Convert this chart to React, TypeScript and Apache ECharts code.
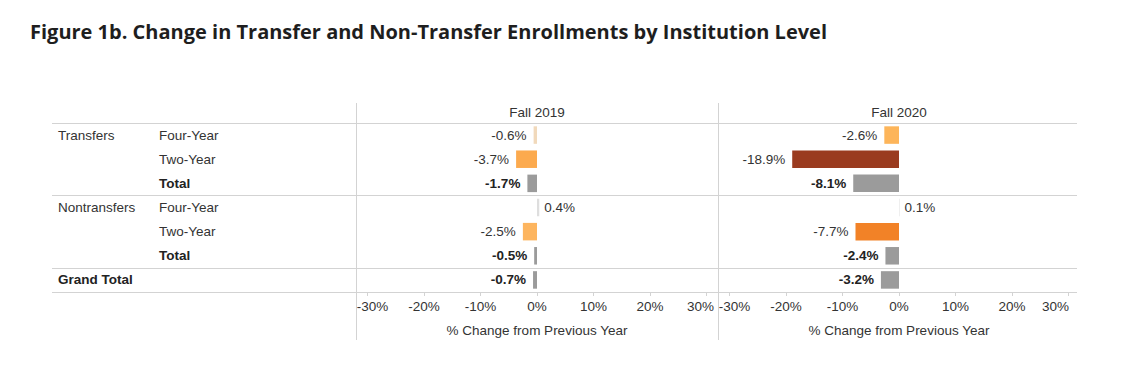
import React, { useEffect, useRef } from "react";
import * as echarts from "echarts";

// ---- data ----
const groups = ["Transfers", "Transfers", "Transfers", "Nontransfers", "Nontransfers", "Nontransfers", "Grand Total"];
const levels = ["Four-Year", "Two-Year", "Total", "Four-Year", "Two-Year", "Total", ""];
const fall2019 = [-0.6, -3.7, -1.7, 0.4, -2.5, -0.5, -0.7];
const fall2020 = [-2.6, -18.9, -8.1, 0.1, -7.7, -2.4, -3.2];
const panels = ["Fall 2019", "Fall 2020"];
const axisMin = -30;
const axisMax = 30;
const axisStep = 10;
const axisTitle = "% Change from Previous Year";
const titleText = "Figure 1b. Change in Transfer and Non-Transfer Enrollments by Institution Level";

// ---- styles ----
const colors2019 = ["#f1d9bb", "#fcaa4e", "#9b9b9b", "#dedede", "#fdb55f", "#9b9b9b", "#9b9b9b"];
const colors2020 = ["#fdb55a", "#9a3b1f", "#9b9b9b", "#e2e2e2", "#f28227", "#9b9b9b", "#9b9b9b"];
const FONT = "Arial, 'Liberation Sans', sans-serif";
const FS = 13.5;
const LINE = "#d3d3d3";

const keys = groups.map((g, i) => g + "|" + levels[i] + "|" + i);
const isBold = (i: number) => levels[i] === "Total" || groups[i] === "Grand Total";
const boundaries: number[] = [0];
groups.forEach((g, i) => {
  if (i > 0 && g !== groups[i - 1]) boundaries.push(i);
});
boundaries.push(groups.length);

const rich = {
  n: { fontFamily: FONT, fontSize: FS, color: "#333" },
  b: { fontFamily: FONT, fontSize: FS, color: "#222", fontWeight: "bold" },
};

function tickAxis(gridIndex: number, maxPad: number) {
  return {
    gridIndex,
    type: "value",
    min: axisMin,
    max: axisMax,
    interval: axisStep,
    position: "bottom",
    splitLine: { show: false },
    axisLine: { show: true, lineStyle: { color: LINE } },
    axisTick: { show: true, length: 4, lineStyle: { color: LINE } },
    axisLabel: {
      showMinLabel: true,
      showMaxLabel: true,
      margin: 7,
      formatter: (v: number) => {
        const t = v + "%";
        if (v === axisMin) return "{mn|" + t + "}";
        if (v === axisMax) return "{mx|" + t + "}";
        return "{t|" + t + "}";
      },
      rich: {
        t: { fontFamily: FONT, fontSize: FS, color: "#333" },
        mn: { fontFamily: FONT, fontSize: FS, color: "#333", padding: [0, 0, 0, 10] },
        mx: { fontFamily: FONT, fontSize: FS, color: "#333", padding: [0, maxPad, 0, 0] },
      },
    },
    name: axisTitle,
    nameLocation: "middle",
    nameGap: 31,
    nameTextStyle: { fontFamily: FONT, fontSize: FS, color: "#333" },
  };
}

function headAxis(gridIndex: number, name: string) {
  return {
    gridIndex,
    type: "value",
    min: axisMin,
    max: axisMax,
    position: "top",
    axisLine: { show: false },
    axisTick: { show: false },
    axisLabel: { show: false },
    splitLine: { show: false },
    name,
    nameLocation: "middle",
    nameGap: 4,
    nameTextStyle: { fontFamily: FONT, fontSize: FS, color: "#333" },
  };
}

function barSeries(values: number[], colors: string[], xAxisIndex: number, yAxisIndex: number) {
  return {
    type: "bar",
    xAxisIndex,
    yAxisIndex,
    barWidth: 17.5,
    data: values.map((v, i) => ({
      value: v,
      itemStyle: { color: colors[i] },
      label: {
        show: true,
        position: v < 0 ? "left" : "right",
        distance: v < 0 ? 7 : 5,
        formatter: () => (isBold(i) ? "{b|" : "{n|") + v.toFixed(1) + "%}",
        rich,
      },
    })),
  };
}

const plainCat = (gridIndex: number, formatter: (v: string, i: number) => string) => ({
  gridIndex,
  type: "category",
  data: keys,
  inverse: true,
  axisLine: { show: false },
  axisTick: { show: false },
  splitLine: { show: false },
  axisLabel: { inside: true, margin: 0, interval: 0, align: "left", formatter, rich },
});

export default function App() {
  const ref = useRef<HTMLDivElement>(null);
  useEffect(() => {
    if (!ref.current) return;
    const chart = echarts.init(ref.current, null, { renderer: "svg" });
    const gridTop = 123;
    const gridH = 169;
    chart.setOption({
      animation: false,
      backgroundColor: "#ffffff",
      title: {
        text: titleText,
        left: 30,
        top: 21,
        padding: 0,
        textStyle: { fontFamily: "'Open Sans', sans-serif", fontWeight: "bold", fontSize: 20, color: "#1e1e1e" },
      },
      grid: [
        { left: 52, right: 46, top: gridTop, height: gridH },
        { left: 367.5, width: 339, top: gridTop, height: gridH },
        { left: 729.5, width: 339, top: gridTop, height: gridH },
        { left: 58, width: 95, top: gridTop, height: gridH },
        { left: 159, width: 150, top: gridTop, height: gridH },
      ],
      xAxis: [
        { gridIndex: 0, type: "value", min: 0, max: 1, show: false },
        tickAxis(1, 12),
        headAxis(1, panels[0]),
        tickAxis(2, 26),
        headAxis(2, panels[1]),
        { gridIndex: 3, type: "value", min: 0, max: 1, show: false },
        { gridIndex: 4, type: "value", min: 0, max: 1, show: false },
      ],
      yAxis: [
        { gridIndex: 0, type: "value", min: 0, max: groups.length, inverse: true, show: false },
        { gridIndex: 1, type: "category", data: keys, inverse: true, show: false },
        { gridIndex: 2, type: "category", data: keys, inverse: true, show: false },
        plainCat(3, (_v: string, i: number) => {
          if (i > 0 && groups[i] === groups[i - 1]) return "";
          return (groups[i] === "Grand Total" ? "{b|" : "{n|") + groups[i] + "}";
        }),
        plainCat(4, (_v: string, i: number) => {
          if (!levels[i]) return "";
          return (isBold(i) ? "{b|" : "{n|") + levels[i] + "}";
        }),
      ],
      graphic: [
        { type: "line", shape: { x1: 356.5, y1: 103, x2: 356.5, y2: 340 }, style: { stroke: LINE, lineWidth: 1 }, silent: true },
        { type: "line", shape: { x1: 718.5, y1: 103, x2: 718.5, y2: 340 }, style: { stroke: LINE, lineWidth: 1 }, silent: true },
      ],
      series: [
        {
          type: "line",
          xAxisIndex: 0,
          yAxisIndex: 0,
          data: [],
          markLine: {
            silent: true,
            symbol: "none",
            label: { show: false },
            lineStyle: { color: LINE, type: "solid", width: 1 },
            data: boundaries.map((b) => ({ yAxis: b })),
          },
        },
        barSeries(fall2019, colors2019, 1, 1),
        barSeries(fall2020, colors2020, 3, 2),
      ],
    });
    return () => chart.dispose();
  }, []);
  return <div ref={ref} style={{ position: "absolute", left: 0, top: 0, width: 1123, height: 366 }} />;
}
